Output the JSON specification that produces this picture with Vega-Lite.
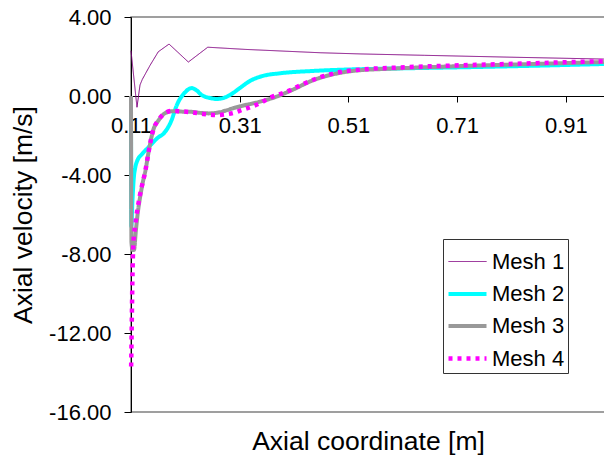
{
  "$schema": "https://vega.github.io/schema/vega-lite/v6.json",
  "width": 474,
  "height": 395,
  "autosize": {"type": "none"},
  "padding": {"left": 131, "top": 17, "right": 0, "bottom": 51},
  "background": "white",
  "config": {
    "font": "Liberation Sans",
    "view": {"stroke": "#808080", "strokeWidth": 1.5},
    "axis": {"grid": false, "labelFont": "Liberation Sans", "titleFont": "Liberation Sans", "labelColor": "black", "titleColor": "black", "titleFontWeight": "normal", "domainColor": "black", "tickColor": "black"}
  },
  "data": {"values": [
    {"x": 0.110, "v": 2.29, "mesh": "Mesh 1"},
    {"x": 0.121, "v": -0.57, "mesh": "Mesh 1"},
    {"x": 0.1266, "v": 0.56, "mesh": "Mesh 1"},
    {"x": 0.1308, "v": 0.84, "mesh": "Mesh 1"},
    {"x": 0.145, "v": 1.55, "mesh": "Mesh 1"},
    {"x": 0.1602, "v": 2.24, "mesh": "Mesh 1"},
    {"x": 0.180, "v": 2.63, "mesh": "Mesh 1"},
    {"x": 0.2155, "v": 1.72, "mesh": "Mesh 1"},
    {"x": 0.2512, "v": 2.47, "mesh": "Mesh 1"},
    {"x": 0.320, "v": 2.36, "mesh": "Mesh 1"},
    {"x": 0.458, "v": 2.19, "mesh": "Mesh 1"},
    {"x": 0.532, "v": 2.13, "mesh": "Mesh 1"},
    {"x": 0.650, "v": 2.06, "mesh": "Mesh 1"},
    {"x": 0.800, "v": 1.97, "mesh": "Mesh 1"},
    {"x": 0.980, "v": 1.87, "mesh": "Mesh 1"},

    {"x": 0.1100, "v": -0.5, "mesh": "Mesh 2"},
    {"x": 0.1105, "v": -6.6, "mesh": "Mesh 2"},
    {"x": 0.1125, "v": -5.4, "mesh": "Mesh 2"},
    {"x": 0.115, "v": -4.2, "mesh": "Mesh 2"},
    {"x": 0.118, "v": -3.6, "mesh": "Mesh 2"},
    {"x": 0.122, "v": -3.25, "mesh": "Mesh 2"},
    {"x": 0.130, "v": -2.95, "mesh": "Mesh 2"},
    {"x": 0.142, "v": -2.6, "mesh": "Mesh 2"},
    {"x": 0.160, "v": -2.1, "mesh": "Mesh 2"},
    {"x": 0.170, "v": -1.9, "mesh": "Mesh 2"},
    {"x": 0.178, "v": -1.6, "mesh": "Mesh 2"},
    {"x": 0.185, "v": -1.2, "mesh": "Mesh 2"},
    {"x": 0.191, "v": -0.7, "mesh": "Mesh 2"},
    {"x": 0.197, "v": -0.3, "mesh": "Mesh 2"},
    {"x": 0.203, "v": -0.03, "mesh": "Mesh 2"},
    {"x": 0.210, "v": 0.2, "mesh": "Mesh 2"},
    {"x": 0.216, "v": 0.35, "mesh": "Mesh 2"},
    {"x": 0.222, "v": 0.4, "mesh": "Mesh 2"},
    {"x": 0.230, "v": 0.3, "mesh": "Mesh 2"},
    {"x": 0.240, "v": 0.05, "mesh": "Mesh 2"},
    {"x": 0.255, "v": -0.1, "mesh": "Mesh 2"},
    {"x": 0.268, "v": -0.15, "mesh": "Mesh 2"},
    {"x": 0.280, "v": -0.1, "mesh": "Mesh 2"},
    {"x": 0.295, "v": 0.1, "mesh": "Mesh 2"},
    {"x": 0.310, "v": 0.4, "mesh": "Mesh 2"},
    {"x": 0.330, "v": 0.78, "mesh": "Mesh 2"},
    {"x": 0.353, "v": 1.02, "mesh": "Mesh 2"},
    {"x": 0.384, "v": 1.15, "mesh": "Mesh 2"},
    {"x": 0.446, "v": 1.27, "mesh": "Mesh 2"},
    {"x": 0.507, "v": 1.34, "mesh": "Mesh 2"},
    {"x": 0.568, "v": 1.38, "mesh": "Mesh 2"},
    {"x": 0.650, "v": 1.42, "mesh": "Mesh 2"},
    {"x": 0.750, "v": 1.47, "mesh": "Mesh 2"},
    {"x": 0.850, "v": 1.53, "mesh": "Mesh 2"},
    {"x": 0.980, "v": 1.62, "mesh": "Mesh 2"},

    {"x": 0.1100, "v": 0.0, "mesh": "Mesh 3"},
    {"x": 0.1108, "v": -7.4, "mesh": "Mesh 3"},
    {"x": 0.1130, "v": -7.8, "mesh": "Mesh 3"},
    {"x": 0.1155, "v": -7.8, "mesh": "Mesh 3"},
    {"x": 0.119, "v": -6.8, "mesh": "Mesh 3"},
    {"x": 0.123, "v": -5.8, "mesh": "Mesh 3"},
    {"x": 0.1275, "v": -5.0, "mesh": "Mesh 3"},
    {"x": 0.1315, "v": -4.4, "mesh": "Mesh 3"},
    {"x": 0.1367, "v": -3.75, "mesh": "Mesh 3"},
    {"x": 0.143, "v": -2.73, "mesh": "Mesh 3"},
    {"x": 0.151, "v": -1.72, "mesh": "Mesh 3"},
    {"x": 0.161, "v": -1.22, "mesh": "Mesh 3"},
    {"x": 0.172, "v": -0.88, "mesh": "Mesh 3"},
    {"x": 0.185, "v": -0.77, "mesh": "Mesh 3"},
    {"x": 0.203, "v": -0.79, "mesh": "Mesh 3"},
    {"x": 0.220, "v": -0.8, "mesh": "Mesh 3"},
    {"x": 0.240, "v": -0.86, "mesh": "Mesh 3"},
    {"x": 0.253, "v": -0.88, "mesh": "Mesh 3"},
    {"x": 0.270, "v": -0.84, "mesh": "Mesh 3"},
    {"x": 0.284, "v": -0.74, "mesh": "Mesh 3"},
    {"x": 0.300, "v": -0.6, "mesh": "Mesh 3"},
    {"x": 0.314, "v": -0.5, "mesh": "Mesh 3"},
    {"x": 0.345, "v": -0.3, "mesh": "Mesh 3"},
    {"x": 0.376, "v": -0.05, "mesh": "Mesh 3"},
    {"x": 0.406, "v": 0.3, "mesh": "Mesh 3"},
    {"x": 0.446, "v": 0.81, "mesh": "Mesh 3"},
    {"x": 0.476, "v": 1.06, "mesh": "Mesh 3"},
    {"x": 0.507, "v": 1.23, "mesh": "Mesh 3"},
    {"x": 0.538, "v": 1.32, "mesh": "Mesh 3"},
    {"x": 0.568, "v": 1.36, "mesh": "Mesh 3"},
    {"x": 0.600, "v": 1.4, "mesh": "Mesh 3"},
    {"x": 0.700, "v": 1.5, "mesh": "Mesh 3"},
    {"x": 0.800, "v": 1.58, "mesh": "Mesh 3"},
    {"x": 0.900, "v": 1.66, "mesh": "Mesh 3"},
    {"x": 0.980, "v": 1.72, "mesh": "Mesh 3"},

    {"x": 0.1103, "v": -13.7, "mesh": "Mesh 4"},
    {"x": 0.1113, "v": -11.7, "mesh": "Mesh 4"},
    {"x": 0.1125, "v": -9.4, "mesh": "Mesh 4"},
    {"x": 0.1143, "v": -7.5, "mesh": "Mesh 4"},
    {"x": 0.118, "v": -6.5, "mesh": "Mesh 4"},
    {"x": 0.1266, "v": -5.0, "mesh": "Mesh 4"},
    {"x": 0.1367, "v": -3.75, "mesh": "Mesh 4"},
    {"x": 0.143, "v": -2.73, "mesh": "Mesh 4"},
    {"x": 0.151, "v": -1.72, "mesh": "Mesh 4"},
    {"x": 0.161, "v": -1.2, "mesh": "Mesh 4"},
    {"x": 0.172, "v": -0.88, "mesh": "Mesh 4"},
    {"x": 0.185, "v": -0.75, "mesh": "Mesh 4"},
    {"x": 0.203, "v": -0.78, "mesh": "Mesh 4"},
    {"x": 0.220, "v": -0.82, "mesh": "Mesh 4"},
    {"x": 0.240, "v": -0.9, "mesh": "Mesh 4"},
    {"x": 0.255, "v": -0.95, "mesh": "Mesh 4"},
    {"x": 0.270, "v": -0.97, "mesh": "Mesh 4"},
    {"x": 0.284, "v": -0.93, "mesh": "Mesh 4"},
    {"x": 0.300, "v": -0.85, "mesh": "Mesh 4"},
    {"x": 0.314, "v": -0.71, "mesh": "Mesh 4"},
    {"x": 0.330, "v": -0.56, "mesh": "Mesh 4"},
    {"x": 0.347, "v": -0.37, "mesh": "Mesh 4"},
    {"x": 0.367, "v": -0.07, "mesh": "Mesh 4"},
    {"x": 0.397, "v": 0.22, "mesh": "Mesh 4"},
    {"x": 0.427, "v": 0.61, "mesh": "Mesh 4"},
    {"x": 0.458, "v": 0.95, "mesh": "Mesh 4"},
    {"x": 0.489, "v": 1.18, "mesh": "Mesh 4"},
    {"x": 0.538, "v": 1.35, "mesh": "Mesh 4"},
    {"x": 0.600, "v": 1.44, "mesh": "Mesh 4"},
    {"x": 0.700, "v": 1.54, "mesh": "Mesh 4"},
    {"x": 0.800, "v": 1.62, "mesh": "Mesh 4"},
    {"x": 0.900, "v": 1.7, "mesh": "Mesh 4"},
    {"x": 0.980, "v": 1.76, "mesh": "Mesh 4"}
  ]},
  "encoding": {
    "x": {"field": "x", "type": "quantitative",
      "scale": {"domain": [0.11, 0.982], "nice": false, "zero": false},
      "axis": {"values": [0.11, 0.31, 0.51, 0.71, 0.91], "format": ".2f", "offset": -316, "labelFontSize": 22, "labelPadding": 13, "tickSize": 6, "labelFlush": false,
        "title": "Axial coordinate [m]", "titleFontSize": 26.5, "titleY": 345, "titleBaseline": "middle"}},
    "y": {"field": "v", "type": "quantitative",
      "scale": {"domain": [-16, 4], "nice": false},
      "axis": {"values": [-16, -12, -8, -4, 0, 4], "format": ".2f", "labelExpr": "replace(datum.label, '\u2212', '-')", "labelFontSize": 22, "labelPadding": 13, "tickSize": 7,
        "title": "Axial velocity [m/s]", "titleFontSize": 26.5, "titlePadding": 11}},
    "color": {"field": "mesh", "type": "nominal",
      "scale": {"domain": ["Mesh 1", "Mesh 2", "Mesh 3", "Mesh 4"], "range": ["#800080", "#00FFFF", "#999999", "#FF00FF"]},
      "legend": {"title": null, "orient": "none", "legendX": 312, "legendY": 222, "symbolType": "stroke", "symbolSize": 1444,
        "labelFontSize": 22, "labelFont": "Liberation Sans", "labelColor": "black", "strokeColor": "#333333", "padding": 3, "rowPadding": -6, "labelOffset": 3, "fillColor": "white"}},
    "strokeWidth": {"field": "mesh", "type": "ordinal",
      "scale": {"type": "ordinal", "domain": ["Mesh 1", "Mesh 2", "Mesh 3", "Mesh 4"], "range": [1, 4, 4, 4.5]},
      "legend": {"title": null, "orient": "none", "legendX": 312, "legendY": 222}},
    "strokeDash": {"field": "mesh", "type": "nominal",
      "scale": {"domain": ["Mesh 1", "Mesh 2", "Mesh 3", "Mesh 4"], "range": [[1, 0], [1, 0], [1, 0], [4, 5]]},
      "legend": {"title": null, "orient": "none", "legendX": 312, "legendY": 222}}
  },
  "layer": [
    {"transform": [{"filter": "datum.mesh == 'Mesh 1'"}], "mark": {"type": "line", "interpolate": "linear"}},
    {"transform": [{"filter": "datum.mesh != 'Mesh 1'"}], "mark": {"type": "line", "interpolate": "monotone"}}
  ]
}
